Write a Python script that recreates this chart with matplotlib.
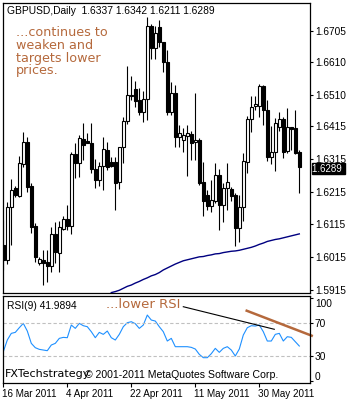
import matplotlib
matplotlib.use("Agg")
import matplotlib.pyplot as plt
import matplotlib.transforms as mtransforms

# GBPUSD daily candles (MT4 includes the small Sunday bars)
opens = [1.6052, 1.6007, 1.6168, 1.6226, 1.6202, 1.6299, 1.6366, 1.6232, 1.6110, 1.5998,
         1.6007, 1.6001, 1.5988, 1.6086, 1.6028, 1.6101, 1.6132, 1.6110, 1.6330, 1.6302,
         1.6376, 1.6369, 1.6363, 1.6284, 1.6251, 1.6293, 1.6342, 1.6305, 1.6305, 1.6244,
         1.6351, 1.6431, 1.6507, 1.6528, 1.6495, 1.6458, 1.6498, 1.6720, 1.6653, 1.6717,
         1.6671, 1.6610, 1.6458, 1.6516, 1.6382, 1.6373, 1.6385, 1.6391, 1.6366, 1.6373,
         1.6244, 1.6205, 1.6171, 1.6187, 1.6266, 1.6174, 1.6226, 1.6223, 1.6205, 1.6104,
         1.6168, 1.6305, 1.6437, 1.6476, 1.6476, 1.6537, 1.6464, 1.6321, 1.6336, 1.6412,
         1.6437, 1.6339, 1.6412, 1.6409, 1.6337]
highs = [1.6129, 1.6183, 1.6254, 1.6232, 1.6324, 1.6397, 1.6382, 1.6241, 1.6119, 1.6016,
         1.6037, 1.6037, 1.6107, 1.6122, 1.6126, 1.6141, 1.6174, 1.6336, 1.6363, 1.6388,
         1.6424, 1.6394, 1.6424, 1.6315, 1.6305, 1.6382, 1.6366, 1.6321, 1.6321, 1.6351,
         1.6443, 1.6598, 1.6568, 1.6553, 1.6531, 1.6522, 1.6748, 1.6726, 1.6720, 1.6739,
         1.6671, 1.6647, 1.6549, 1.6540, 1.6418, 1.6409, 1.6418, 1.6400, 1.6516, 1.6379,
         1.6305, 1.6220, 1.6251, 1.6302, 1.6284, 1.6241, 1.6302, 1.6229, 1.6211, 1.6205,
         1.6333, 1.6446, 1.6507, 1.6507, 1.6543, 1.6540, 1.6495, 1.6415, 1.6440, 1.6458,
         1.6443, 1.6470, 1.6412, 1.6464, 1.6342]
lows = [1.5976, 1.5995, 1.6052, 1.6199, 1.6199, 1.6290, 1.6214, 1.6089, 1.6001, 1.5991,
        1.5930, 1.5939, 1.5970, 1.5998, 1.5970, 1.6098, 1.6098, 1.6086, 1.6257, 1.6260,
        1.6312, 1.6363, 1.6272, 1.6226, 1.6232, 1.6220, 1.6281, 1.6290, 1.6159, 1.6223,
        1.6302, 1.6421, 1.6495, 1.6473, 1.6449, 1.6427, 1.6434, 1.6620, 1.6620, 1.6656,
        1.6580, 1.6449, 1.6449, 1.6351, 1.6351, 1.6336, 1.6263, 1.6312, 1.6312, 1.6235,
        1.6141, 1.6159, 1.6153, 1.6180, 1.6098, 1.6122, 1.6159, 1.6187, 1.6049, 1.6061,
        1.6126, 1.6272, 1.6397, 1.6464, 1.6443, 1.6418, 1.6309, 1.6299, 1.6278, 1.6400,
        1.6318, 1.6333, 1.6342, 1.6330, 1.6211]
closes = [1.6007, 1.6168, 1.6220, 1.6205, 1.6302, 1.6366, 1.6229, 1.6107, 1.6016, 1.6010,
          1.5998, 1.5988, 1.6086, 1.6031, 1.6107, 1.6132, 1.6110, 1.6330, 1.6302, 1.6379,
          1.6357, 1.6363, 1.6284, 1.6251, 1.6293, 1.6345, 1.6290, 1.6293, 1.6241, 1.6351,
          1.6431, 1.6510, 1.6510, 1.6491, 1.6458, 1.6498, 1.6720, 1.6653, 1.6699, 1.6671,
          1.6610, 1.6458, 1.6516, 1.6382, 1.6394, 1.6388, 1.6394, 1.6363, 1.6373, 1.6241,
          1.6187, 1.6171, 1.6190, 1.6266, 1.6174, 1.6226, 1.6244, 1.6202, 1.6104, 1.6168,
          1.6309, 1.6437, 1.6473, 1.6482, 1.6537, 1.6464, 1.6321, 1.6336, 1.6424, 1.6437,
          1.6336, 1.6412, 1.6406, 1.6333, 1.6289]

# moving average, visible from bar 27 on
ma_start = 27
ma_values = [1.5907, 1.5910, 1.5914, 1.5920, 1.5926, 1.5930, 1.5936, 1.5941, 1.5947, 1.5952,
             1.5958, 1.5962, 1.5968, 1.5976, 1.5982, 1.5988, 1.5994, 1.5999, 1.6004, 1.6007,
             1.6010, 1.6013, 1.6016, 1.6017, 1.6020, 1.6022, 1.6025, 1.6026, 1.6029, 1.6031,
             1.6033, 1.6034, 1.6036, 1.6039, 1.6042, 1.6045, 1.6049, 1.6054, 1.6058, 1.6063,
             1.6066, 1.6069, 1.6071, 1.6074, 1.6077, 1.6080, 1.6083, 1.6086]

rsi_values = [35.2, 49.2, 57.2, 58.4, 64.0, 69.2, 60.0, 45.2, 40.0, 38.0,
              37.2, 36.4, 43.2, 45.2, 51.2, 52.4, 52.0, 67.2, 63.2, 69.2,
              66.4, 65.2, 59.2, 52.0, 58.4, 56.0, 60.0, 52.0, 49.2, 56.0,
              65.2, 70.0, 71.2, 68.8, 63.2, 67.2, 79.2, 73.2, 72.0, 65.2,
              59.2, 48.0, 51.2, 41.2, 41.2, 41.2, 41.2, 40.4, 38.4, 32.0,
              28.0, 28.0, 32.8, 39.2, 34.4, 39.2, 41.2, 37.2, 30.0, 38.4,
              55.2, 64.0, 66.4, 66.0, 67.2, 59.2, 48.0, 48.0, 56.0, 57.2,
              48.0, 53.2, 52.4, 47.2, 42.0]

price_ticks = [1.6705, 1.6610, 1.6510, 1.6415, 1.6315, 1.6215, 1.6115, 1.6015, 1.5915]
rsi_ticks = [0, 30, 70, 100]
date_idx = [0, 16, 32, 48, 64]
date_labels = ["16 Mar 2011", "4 Apr 2011", "22 Apr 2011", "11 May 2011", "30 May 2011"]

# hand drawn trend lines on the RSI window (bar index, RSI value)
trend_black_x = [45, 67.75]
trend_black_y = [89.2, 62.1]
trend_brown_x = [60.85, 77.1]
trend_brown_y = [84.4, 54.4]

note_color = "#b5693c"
small_font = "Liberation Sans"
W, H = 350, 400

fig = plt.figure(figsize=(3.5, 4), dpi=100)
ax = fig.add_axes([2.7 / W, 1 - 293 / H, 307.3 / W, 290 / H])
ax2 = fig.add_axes([2.7 / W, 1 - 383 / H, 307.3 / W, 87 / H])

# candles
xs = list(range(len(opens)))
up = [c >= o for o, c in zip(opens, closes)]
ax.vlines(xs, lows, highs, color="black", linewidth=0.8, zorder=2)
bottoms = [min(o, c) for o, c in zip(opens, closes)]
heights = [max(abs(c - o), 0.00005) for o, c in zip(opens, closes)]
ax.bar(xs, heights, bottom=bottoms, width=0.72,
       color=["white" if u else "black" for u in up],
       edgecolor="black", linewidth=0.8, zorder=3)

ax.plot(range(ma_start, ma_start + len(ma_values)), ma_values, color="#000080", linewidth=1.0, zorder=4)

ax.set_xlim(-0.15, 76.675)
ax.set_ylim(1.59057, 1.67904)
ax.set_xticks([])
ax.yaxis.tick_right()
ax.set_yticks(price_ticks)
ax.set_yticklabels([f"{v:.4f}" for v in price_ticks], fontfamily=small_font)
ax.tick_params(axis="y", direction="out", length=2, width=0.8, labelsize=7.3, pad=1.5)

# RSI window
ax2.plot(xs, rsi_values, color="#1e90ff", linewidth=0.8)
for lvl in (30, 70):
    ax2.axhline(lvl, color="#c0c0c0", linestyle=(0, (3, 2)), linewidth=0.8)
ax2.plot(trend_black_x, trend_black_y, color="black", linewidth=0.8, clip_on=False)
ax2.plot(trend_brown_x, trend_brown_y, color=note_color, linewidth=1.8, clip_on=False)
ax2.set_xlim(-0.15, 76.675)
ax2.set_ylim(-2.4, 102.07)
ax2.yaxis.tick_right()
ax2.set_yticks(rsi_ticks)
ax2.set_yticklabels([str(v) for v in rsi_ticks], fontfamily=small_font)
ax2.tick_params(axis="y", direction="out", length=2, width=0.8, labelsize=7.3, pad=1.5)
ax2.set_xticks(date_idx)
ax2.set_xticklabels(date_labels, ha="left", fontfamily=small_font)
ax2.tick_params(axis="x", direction="out", length=3, width=0.8, labelsize=7.1, pad=1.5)
for lab in ax2.get_xticklabels():
    lab.set_transform(lab.get_transform() + mtransforms.ScaledTranslation(-0.015, 0, fig.dpi_scale_trans))
# MT4 pulls the 100 and 0 labels inside the window
for tick, v in zip(ax2.yaxis.get_major_ticks(), rsi_ticks):
    shift = {0: 0.05, 100: -0.05}.get(v, 0)
    tick.label2.set_transform(tick.label2.get_transform() + mtransforms.ScaledTranslation(0, shift, fig.dpi_scale_trans))

for a in (ax, ax2):
    for s in a.spines.values():
        s.set_linewidth(0.9)

# texts
fig.text(7 / W, 1 - 10.5 / H, "GBPUSD,Daily  1.6337 1.6342 1.6211 1.6289", family=small_font,
         fontsize=7.4, va="center", ha="left", color="black")
fig.text(16 / W, 1 - 26 / H, "...continues to\nweaken and\ntargets lower\nprices.",
         fontsize=9.2, va="top", ha="left", color=note_color, linespacing=0.98)
fig.text(312 / W, 1 - 168.5 / H, "1.6289 ", fontsize=7.0, family=small_font, va="center", ha="left",
         color="white", bbox=dict(boxstyle="square,pad=0.03", facecolor="black", edgecolor="black"))
fig.text(7 / W, 1 - 306 / H, "RSI(9) 41.9894", family=small_font, fontsize=7.4,
         va="center", ha="left", color="black")
fig.text(106 / W, 1 - 305 / H, "...lower RSI", fontsize=9.5, va="center", ha="left", color=note_color)
fig.text(5 / W, 1 - 374 / H, "FXTechstrategy", fontsize=8, va="center", ha="left", color="black")
fig.text(85 / W, 1 - 374.5 / H, "\u00a9 2001-2011 MetaQuotes Software Corp.", family=small_font,
         fontsize=7.6, va="center", ha="left", color="black")

fig.savefig("out.png", dpi=100, facecolor="white")
